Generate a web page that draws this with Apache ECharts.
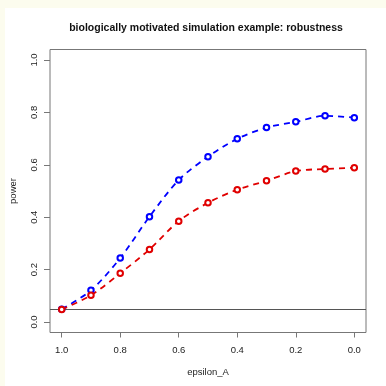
<!DOCTYPE html>
<html>
<head>
<meta charset="utf-8">
<script src="https://cdn.jsdelivr.net/npm/echarts@6/dist/echarts.min.js"></script>
<style>
  html, body { margin: 0; padding: 0; background: #fcfcee; }
  #main { position: absolute; left: 0; top: 0; width: 386px; height: 386px; }
</style>
</head>
<body>
<div id="main"></div>
<script>
// epsilon_A values (x axis runs from 1.0 down to 0.0)
const epsilon = [1.0, 0.9, 0.8, 0.7, 0.6, 0.5, 0.4, 0.3, 0.2, 0.1, 0.0]
const powerBlue = [0.049, 0.121, 0.244, 0.402, 0.542, 0.631, 0.699, 0.742, 0.764, 0.787, 0.780]
const powerRed = [0.048, 0.102, 0.186, 0.277, 0.385, 0.455, 0.505, 0.539, 0.576, 0.584, 0.589]
const tickValues = [0, 0.2, 0.4, 0.6, 0.8, 1.0]
const alphaLevel = 0.05

const font = 'Liberation Sans, Arial, Helvetica, sans-serif'
const axisGray = '#777'

const toPairs = (xs, ys) => xs.map((x, i) => [x, ys[i]])

const dashedSeries = (name, color, values) => ({
  name: name,
  type: 'line',
  data: toPairs(epsilon, values),
  smooth: 0.3,
  symbol: 'emptyCircle',
  symbolSize: 5.5,
  itemStyle: { color: color, borderColor: color, borderWidth: 1.5 },
  lineStyle: { color: color, width: 1.8, type: [6, 5] },
  emphasis: { disabled: true },
  z: 3
})

const chart = echarts.init(document.getElementById('main'))

const option = {
  backgroundColor: 'transparent',
  animation: false,
  graphic: [{
    type: 'rect',
    shape: { x: 5, y: 8, width: 381, height: 378 },
    style: { fill: '#ffffff' },
    z: -10,
    silent: true
  }],
  title: {
    text: 'biologically motivated simulation example: robustness',
    left: 201,
    top: 18,
    textAlign: 'center',
    textStyle: { fontFamily: font, fontSize: 10.5, fontWeight: 'bold', color: '#111' }
  },
  grid: {
    left: 49,
    top: 49.5,
    width: 317,
    height: 283,
    show: true,
    borderColor: axisGray,
    borderWidth: 1,
    backgroundColor: 'transparent'
  },
  xAxis: {
    type: 'value',
    inverse: true,
    min: -0.04,
    max: 1.04,
    splitLine: { show: false },
    axisLine: { show: false, onZero: false },
    axisTick: { show: true, customValues: tickValues, length: 5, lineStyle: { color: axisGray } },
    axisLabel: {
      customValues: tickValues,
      margin: 13,
      fontFamily: font,
      fontSize: 9.5,
      color: '#222',
      formatter: v => v.toFixed(1)
    },
    name: 'epsilon_A',
    nameLocation: 'middle',
    nameGap: 35,
    nameTextStyle: { fontFamily: font, fontSize: 9.5, color: '#222' }
  },
  yAxis: {
    type: 'value',
    min: -0.04,
    max: 1.04,
    splitLine: { show: false },
    axisLine: { show: false, onZero: false },
    axisTick: { show: true, customValues: tickValues, length: 6, lineStyle: { color: axisGray } },
    axisLabel: {
      customValues: tickValues,
      rotate: 90,
      margin: 11,
      fontFamily: font,
      fontSize: 9.5,
      color: '#222',
      formatter: v => v.toFixed(1)
    },
    name: 'power',
    nameLocation: 'middle',
    nameGap: 32,
    nameTextStyle: { fontFamily: font, fontSize: 9.5, color: '#222' }
  },
  series: [
    dashedSeries('blue', '#0000ff', powerBlue),
    Object.assign(dashedSeries('red', '#e00000', powerRed), {
      markLine: {
        silent: true,
        symbol: 'none',
        label: { show: false },
        lineStyle: { color: '#555', width: 1, type: 'solid' },
        data: [{ yAxis: alphaLevel }],
        z: 1
      }
    })
  ]
}

chart.setOption(option)
</script>
</body>
</html>
